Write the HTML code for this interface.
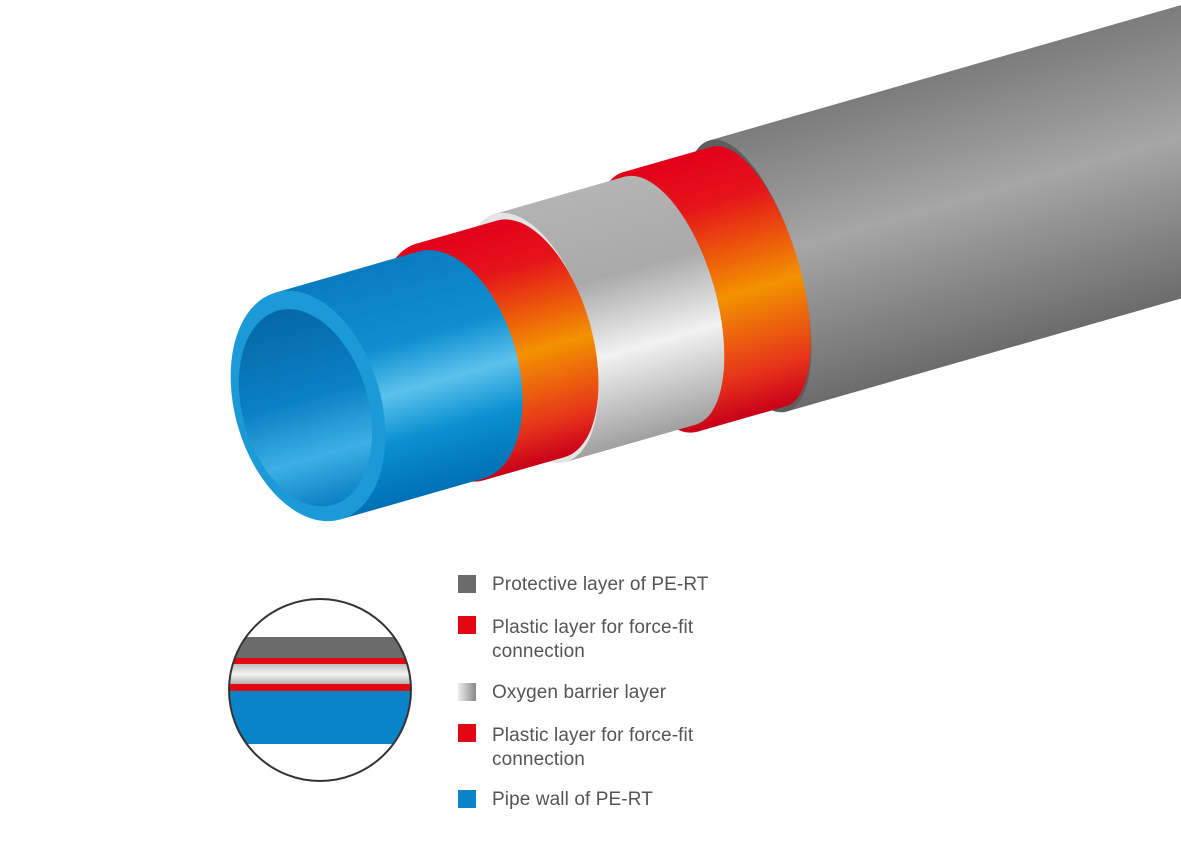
<!DOCTYPE html>
<html><head><meta charset="utf-8"><style>
html,body{margin:0;padding:0;background:#fff;}
body{width:1181px;height:850px;overflow:hidden;position:relative;font-family:"Liberation Sans",sans-serif;}
.t{position:absolute;left:492px;font-size:19px;color:#555;line-height:24px;letter-spacing:0.1px}
.sq{position:absolute;left:458px;width:18px;height:18px}
</style></head><body>
<svg width="1181" height="850" style="position:absolute;left:0;top:0">
<defs>
<linearGradient id="gG" gradientUnits="userSpaceOnUse" x1="0" y1="-141" x2="0" y2="141">
<stop offset="0" stop-color="#7c7c7c"/><stop offset="0.45" stop-color="#a6a6a6"/><stop offset="1" stop-color="#6c6c6c"/></linearGradient>
<linearGradient id="gR2" gradientUnits="userSpaceOnUse" x1="0" y1="-135" x2="0" y2="135">
<stop offset="0" stop-color="#e2001a"/><stop offset="0.2" stop-color="#e5141a"/><stop offset="0.55" stop-color="#f39200"/><stop offset="0.85" stop-color="#e6331a"/><stop offset="1" stop-color="#c8001a"/></linearGradient>
<linearGradient id="gS" gradientUnits="userSpaceOnUse" x1="0" y1="-129" x2="0" y2="129">
<stop offset="0" stop-color="#b4b4b4"/><stop offset="0.35" stop-color="#a9a9a9"/><stop offset="0.65" stop-color="#f2f2f2"/><stop offset="1" stop-color="#a0a0a0"/></linearGradient>
<linearGradient id="gR1" gradientUnits="userSpaceOnUse" x1="0" y1="-123" x2="0" y2="123">
<stop offset="0" stop-color="#e2001a"/><stop offset="0.2" stop-color="#e5141a"/><stop offset="0.55" stop-color="#f39200"/><stop offset="0.85" stop-color="#e6331a"/><stop offset="1" stop-color="#c8001a"/></linearGradient>
<linearGradient id="gB" gradientUnits="userSpaceOnUse" x1="0" y1="-118" x2="0" y2="118">
<stop offset="0" stop-color="#0a7cc0"/><stop offset="0.35" stop-color="#0f8fd0"/><stop offset="0.55" stop-color="#5cc2ec"/><stop offset="0.75" stop-color="#0a90d0"/><stop offset="1" stop-color="#0070b5"/></linearGradient>
<linearGradient id="gBin" x1="0" y1="0" x2="0" y2="1">
<stop offset="0" stop-color="#0568a8"/><stop offset="0.45" stop-color="#0a80c4"/><stop offset="0.75" stop-color="#3cb0e4"/><stop offset="1" stop-color="#0a80c4"/></linearGradient>
<clipPath id="cc"><circle cx="320" cy="690" r="91"/></clipPath>
<linearGradient id="lS" x1="0" y1="0" x2="0" y2="1"><stop offset="0" stop-color="#bdbdbd"/><stop offset="0.5" stop-color="#f5f5f5"/><stop offset="1" stop-color="#b0b0b0"/></linearGradient>
</defs>
<g transform="translate(748,276) rotate(-16)">
<rect x="0" y="-141" width="1400" height="282" fill="url(#gG)"/>
<ellipse cx="0" cy="0" rx="52" ry="141" fill="#5e5e5e"/>
</g>
<g transform="translate(660,302) rotate(-16)">
<rect x="0" y="-135" width="92" height="270" fill="url(#gR2)"/>
<ellipse cx="92" cy="0" rx="52" ry="135" fill="url(#gR2)"/>
<ellipse cx="0" cy="0" rx="56" ry="135" fill="url(#gR2)"/>
</g>
<g transform="translate(530,338) rotate(-16)">
<rect x="0" y="-129" width="135" height="258" fill="url(#gS)"/>
<ellipse cx="135" cy="0" rx="56" ry="129" fill="url(#gS)"/>
<ellipse cx="0" cy="0" rx="61" ry="129" fill="#e4e4e4"/>
</g>
<g transform="translate(450,362) rotate(-16)">
<rect x="0" y="-123" width="84" height="246" fill="url(#gR1)"/>
<ellipse cx="84" cy="0" rx="61" ry="123" fill="url(#gR1)"/>
<ellipse cx="0" cy="0" rx="66" ry="123" fill="url(#gR1)"/>
</g>
<g transform="translate(308,406) rotate(-16)">
<rect x="0" y="-118" width="149" height="236" fill="url(#gB)"/>
<ellipse cx="149" cy="0" rx="66" ry="118" fill="url(#gB)"/>
<ellipse cx="0" cy="0" rx="73" ry="118" fill="#1c9ad8"/>
<ellipse cx="-3" cy="1" rx="63" ry="101" fill="url(#gBin)"/>
</g>
<g clip-path="url(#cc)">
<rect x="220" y="637" width="200" height="21" fill="#6b6b6b"/>
<rect x="220" y="658" width="200" height="6" fill="#e30613"/>
<rect x="220" y="664" width="200" height="20" fill="url(#lS)"/>
<rect x="220" y="684" width="200" height="7" fill="#e30613"/>
<rect x="220" y="691" width="200" height="53" fill="#0a84c9"/>
</g>
<circle cx="320" cy="690" r="91" fill="none" stroke="#333" stroke-width="2"/>
</svg>
<div class="sq" style="top:575px;background:#6b6b6b"></div>
<div class="t" style="top:573px">Protective layer of PE-RT</div>
<div class="sq" style="top:616px;background:#e30613"></div>
<div class="t" style="top:616px">Plastic layer for force-fit<br>connection</div>
<div class="sq" style="top:683px;background:linear-gradient(90deg,#eee,#bbb,#888)"></div>
<div class="t" style="top:681px">Oxygen barrier layer</div>
<div class="sq" style="top:724px;background:#e30613"></div>
<div class="t" style="top:724px">Plastic layer for force-fit<br>connection</div>
<div class="sq" style="top:790px;background:#0a84c9"></div>
<div class="t" style="top:788px">Pipe wall of PE-RT</div>
</body></html>
